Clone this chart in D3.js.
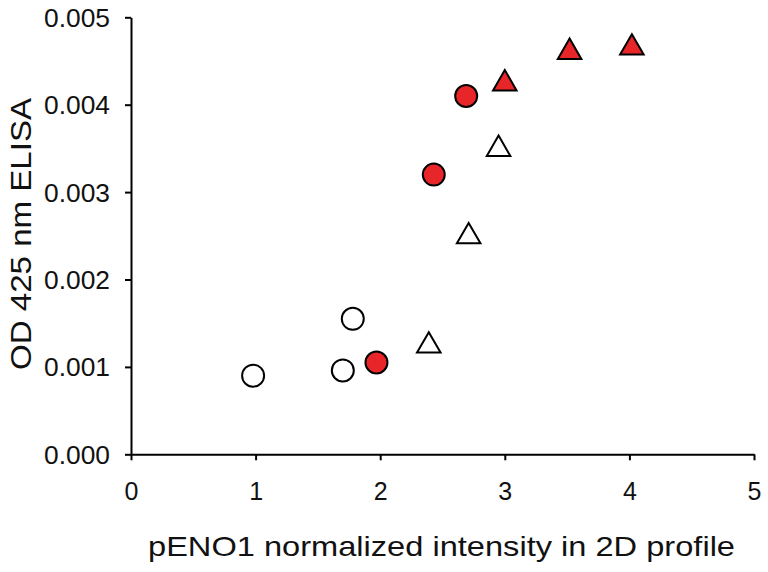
<!DOCTYPE html>
<html>
<head>
<meta charset="utf-8">
<script src="https://cdn.jsdelivr.net/npm/d3@7"></script>
<style>
  html, body { margin: 0; padding: 0; background: #fff; }
  svg { display: block; font-family: "Liberation Sans", Arial, sans-serif; }
</style>
</head>
<body>
<svg id="chart" width="768" height="572"></svg>
<script>
// --- data ---
const openCircleX = [0.98, 1.70, 1.78];
const openCircleY = [0.00090, 0.00096, 0.00155];
const redCircleX = [1.97, 2.43, 2.69];
const redCircleY = [0.00105, 0.00320, 0.00410];
const openTriX = [2.39, 2.71, 2.95];
const openTriY = [0.00128, 0.00253, 0.00353];
const redTriX = [3.00, 3.52, 4.02];
const redTriY = [0.00428, 0.00464, 0.00469];

const xTicks = [0, 1, 2, 3, 4, 5];
const yTicks = [0, 0.001, 0.002, 0.003, 0.004, 0.005];
const xLabel = "pENO1 normalized intensity in 2D profile";
const yLabel = "OD 425 nm ELISA";

const series = [
  { xs: openCircleX, ys: openCircleY, shape: "circle", fill: "#ffffff" },
  { xs: redCircleX, ys: redCircleY, shape: "circle", fill: "#e8262a" },
  { xs: openTriX, ys: openTriY, shape: "triangle", fill: "#ffffff" },
  { xs: redTriX, ys: redTriY, shape: "triangle", fill: "#e8262a" },
];

function drawChart() {
  const svg = d3.select("#chart");
  const plotLeft = 131, plotRight = 754, plotTop = 17.3, plotBottom = 454.3;

  const x = d3.scaleLinear().domain([0, 5]).range([plotLeft, plotRight]);
  const y = d3.scaleLinear().domain([0, 0.005]).range([plotBottom, plotTop]);

  // axes
  const xAxis = svg.append("g")
    .attr("transform", `translate(0,${plotBottom})`)
    .call(d3.axisBottom(x).tickValues(xTicks).tickFormat(d3.format("d")).tickSize(6).tickSizeOuter(0));
  const yAxis = svg.append("g")
    .attr("transform", `translate(${plotLeft},0)`)
    .call(d3.axisLeft(y).tickValues(yTicks).tickFormat(d3.format(".3f")).tickSize(6).tickSizeOuter(0));

  [xAxis, yAxis].forEach(g => {
    g.select(".domain").attr("stroke", "#000").attr("stroke-width", 2);
    g.selectAll(".tick line").attr("stroke", "#000").attr("stroke-width", 2);
    g.selectAll(".tick text")
      .attr("fill", "#111")
      .style("font-family", "'Liberation Sans', Arial, sans-serif")
      .style("font-size", "25px");
  });
  xAxis.selectAll(".tick text").attr("dy", "0").attr("y", 45.5);
  yAxis.selectAll(".tick text").attr("x", -21).attr("dy", "0.36em")
    .attr("textLength", 66).attr("lengthAdjust", "spacingAndGlyphs");

  // axis titles
  svg.append("text")
    .attr("x", 441.5)
    .attr("y", 556)
    .attr("text-anchor", "middle")
    .attr("fill", "#111")
    .style("font-size", "28px")
    .attr("textLength", 587)
    .attr("lengthAdjust", "spacingAndGlyphs")
    .text(xLabel);

  svg.append("text")
    .attr("transform", "translate(31,234) rotate(-90)")
    .attr("text-anchor", "middle")
    .attr("fill", "#111")
    .style("font-size", "29px")
    .attr("textLength", 272)
    .attr("lengthAdjust", "spacingAndGlyphs")
    .text(yLabel);

  // markers
  const circleSym = d3.symbol().type(d3.symbolCircle).size(Math.PI * 11 * 11);
  const triSym = d3.symbol().type(d3.symbolTriangle).size(240);

  series.forEach(s => {
    const pts = s.xs.map((v, i) => [v, s.ys[i]]);
    svg.append("g")
      .selectAll("path")
      .data(pts)
      .join("path")
      .attr("transform", d => `translate(${x(d[0])},${y(d[1]) + (s.shape === "triangle" ? 3.4 : 0)})`)
      .attr("d", s.shape === "circle" ? circleSym : triSym)
      .attr("fill", s.fill)
      .attr("stroke", "#000")
      .attr("stroke-width", 2);
  });
}

drawChart();
</script>
</body>
</html>
